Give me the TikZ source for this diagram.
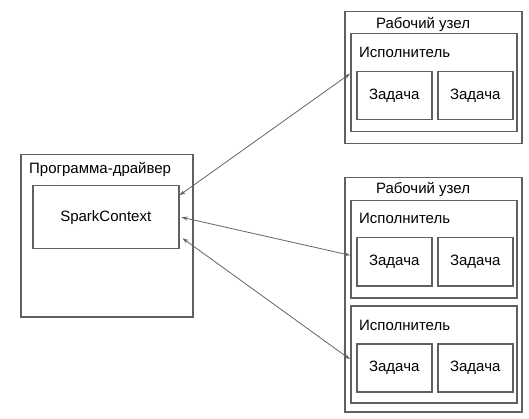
\documentclass[tikz,border=0pt]{standalone}
\usepackage{fontspec}
\setmainfont{Liberation Sans}
\usepackage{xcolor}
\usepackage{tikz}
\usetikzlibrary{arrows.meta, positioning, calc}
\definecolor{boxgray}{RGB}{96,96,96}
\definecolor{linkgray}{RGB}{100,100,100}

\begin{document}
\begin{tikzpicture}[
    x=1pt, y=-1pt,
    every node/.style={font=\fontsize{15}{17}\selectfont},
    box/.style={draw=boxgray, line width=1.5pt, inner sep=0pt, anchor=north west},
    taskbox/.style={box, minimum width=75pt, minimum height=48pt},
    execbox/.style={box, minimum width=166pt, minimum height=97pt},
    caption/.style={anchor=west, inner sep=0pt},
    link/.style={draw=linkgray, line width=0.8pt, {Stealth[length=6pt,width=4pt]}-{Stealth[length=6pt,width=4pt]}}
]
\useasboundingbox (0,0) rectangle (529,419);

% driver side
\node[box, minimum width=172pt, minimum height=162pt] (driver) at (20,154) {};
\node[caption] (driverlbl) at (29,169) {Программа-драйвер};
\node[box, minimum width=146pt, minimum height=63pt] (spark) at (32,185) {};
\node (sparklbl) at (spark.center) {SparkContext};

% first worker
\node[box, minimum width=177pt, minimum height=132pt] (workerA) at (344,11) {};
\node (workerAlbl) at (423,24) {Рабочий узел};
\node[execbox, minimum height=98pt] (execA) at (350,33) {};
\node[caption] (execAlbl) at (359,52) {Исполнитель};
\node[taskbox] (taskA1) at (356,71) {Задача};
\node[taskbox] (taskA2) at (437,71) {Задача};

% second worker
\node[box, minimum width=177pt, minimum height=234pt] (workerB) at (344,177) {};
\node (workerBlbl) at (423,189) {Рабочий узел};
\node[execbox] (execB) at (350,200) {};
\node[caption] (execBlbl) at (359,218) {Исполнитель};
\node[taskbox] (taskB1) at (356,237) {Задача};
\node[taskbox] (taskB2) at (437,237) {Задача};
\node[execbox] (execC) at (350,305) {};
\node[caption] (execClbl) at (359,325) {Исполнитель};
\node[taskbox] (taskC1) at (356,343) {Задача};
\node[taskbox] (taskC2) at (437,343) {Задача};

% links
\draw[link] ([yshift=22pt]spark.east) -- ([yshift=9pt]execA.west);
\draw[link] ([xshift=2pt]spark.east) -- ([yshift=-6pt]execB.west);
\draw[link] ([xshift=3pt,yshift=-21pt]spark.east) -- ([yshift=-5pt]execC.west);
\end{tikzpicture}
\end{document}
